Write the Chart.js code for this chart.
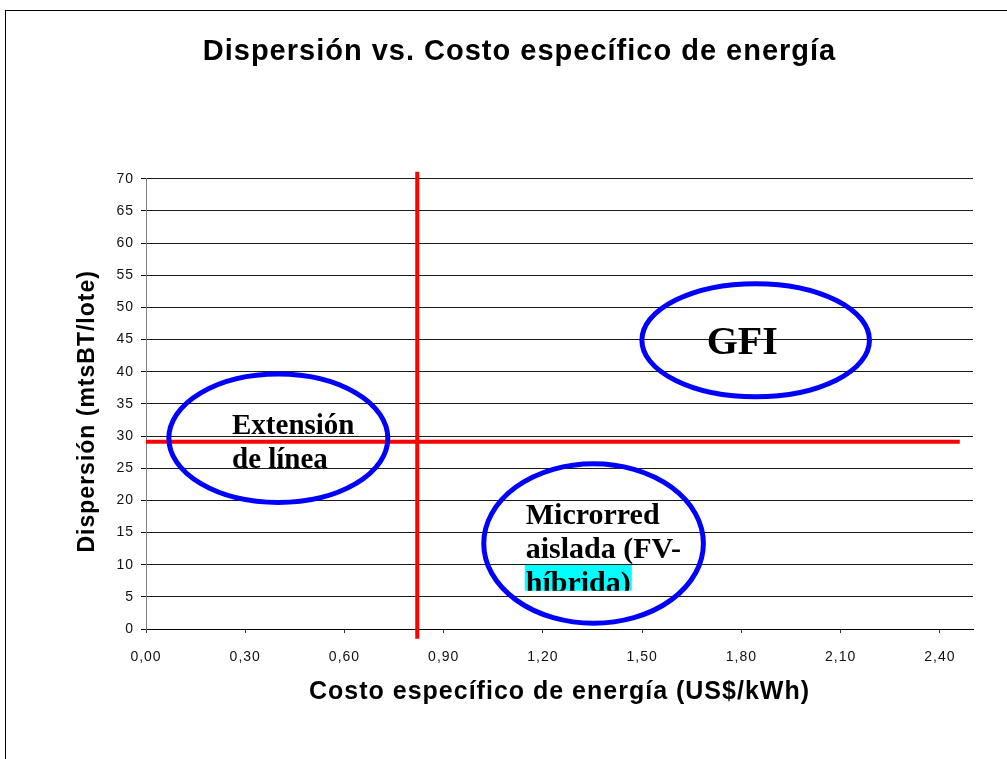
<!DOCTYPE html>
<html>
<head>
<meta charset="utf-8">
<title>Dispersión vs. Costo específico de energía</title>
<script src="https://cdn.jsdelivr.net/npm/chart.js@4.4.1/dist/chart.umd.min.js"></script>
<style>
  html, body { margin: 0; padding: 0; background: #fff; }
  canvas { display: block; }
</style>
</head>
<body>
<canvas id="chart" width="1007" height="759"></canvas>
<script>
// Axis ticks
const xTicks = [0, 0.3, 0.6, 0.9, 1.2, 1.5, 1.8, 2.1, 2.4];
const xMax = 2.5;
const yMin = 0, yMax = 70, yStep = 5;

// Red dividing lines (US$/kWh vs mtsBT/lote)
const vLineX = [0.82, 0.82];
const vLineY = [71.1, -1.5];
const hLineX = [0, 2.46];
const hLineY = [29.1, 29.1];

// Zones drawn as ellipses, in data units
const zoneX = [0.40, 1.843, 1.353];
const zoneY = [29.66, 44.9, 13.3];
const zoneRx = [0.331, 0.344, 0.332];
const zoneRy = [9.98, 8.8, 12.4];

// Zone labels (left edge / first baseline in data units)
const labelLines = [['Extensión', 'de línea'], ['GFI'], ['Microrred', 'aislada (FV-', 'híbrida)']];
const labelX = [0.26, 1.695, 1.148];
const labelY = [30.3, 42.77, 16.33];
const labelSize = [29, 40, 30];

const fmt = v => v.toFixed(2).replace('.', ',');

// old excel text is a bit wider than plain Arial
const spacing = {
  id: 'spacing',
  beforeUpdate(chart) { chart.ctx.letterSpacing = '1px'; },
  beforeDraw(chart) {
    const ctx = chart.ctx;
    ctx.letterSpacing = '1px';
    // chart frame
    ctx.save();
    ctx.strokeStyle = '#000';
    ctx.lineWidth = 1;
    ctx.strokeRect(5.5, 10.5, 1200, 1000);
    ctx.restore();
  }
};

const zones = {
  id: 'zones',
  afterDatasetsDraw(chart) {
    const { ctx, scales: { x, y } } = chart;
    ctx.save();
    ctx.letterSpacing = '0px';
    ctx.strokeStyle = '#0000ff';
    ctx.lineWidth = 5;
    zoneX.forEach((cx, i) => {
      const px = x.getPixelForValue(cx);
      const py = y.getPixelForValue(zoneY[i]);
      const rx = x.getPixelForValue(cx + zoneRx[i]) - px;
      const ry = py - y.getPixelForValue(zoneY[i] + zoneRy[i]);
      ctx.beginPath();
      ctx.ellipse(px, py, rx, ry, 0, 0, Math.PI * 2);
      ctx.stroke();
    });

    ctx.textBaseline = 'alphabetic';
    ctx.textAlign = 'left';
    labelLines.forEach((lines, i) => {
      const size = labelSize[i];
      ctx.font = 'bold ' + size + 'px "Liberation Serif", "Times New Roman", serif';
      const lx = x.getPixelForValue(labelX[i]);
      let by = y.getPixelForValue(labelY[i]);
      lines.forEach((line, j) => {
        if (i === 2 && j === 2) {
          // last line is highlighted and cut by the text box
          const w = ctx.measureText(line).width;
          const top = by - 27, bottom = by - 1.3;
          ctx.save();
          ctx.fillStyle = '#00ffff';
          ctx.fillRect(lx - 1, top, w + 2, bottom - top);
          ctx.beginPath();
          ctx.rect(lx - 1, top, w + 2, bottom - top);
          ctx.clip();
          ctx.fillStyle = '#000';
          ctx.fillText(line, lx, by);
          ctx.restore();
        } else {
          ctx.fillStyle = '#000';
          ctx.fillText(line, lx, by);
        }
        by += 34;
      });
    });
    ctx.restore();
  }
};

new Chart(document.getElementById('chart'), {
  type: 'scatter',
  data: {
    datasets: [
      {
        data: vLineX.map((v, i) => ({ x: v, y: vLineY[i] })),
        showLine: true,
        borderColor: '#ff0000',
        borderWidth: 4,
        pointRadius: 0,
        clip: false
      },
      {
        data: hLineX.map((v, i) => ({ x: v, y: hLineY[i] })),
        showLine: true,
        borderColor: '#ff0000',
        borderWidth: 4,
        pointRadius: 0,
        clip: false
      }
    ]
  },
  options: {
    responsive: false,
    animation: false,
    devicePixelRatio: 1,
    layout: { padding: { left: 32, right: 0, top: 0, bottom: 0 } },
    plugins: {
      legend: { display: false },
      tooltip: { enabled: false },
      title: {
        display: true,
        text: 'Dispersión vs. Costo específico de energía',
        color: '#000',
        font: { family: '"Liberation Sans", Arial, sans-serif', size: 29, weight: 'bold' },
        padding: { top: 35, bottom: 109 }
      }
    },
    scales: {
      x: {
        type: 'linear',
        min: 0,
        max: xMax,
        afterBuildTicks: s => { s.ticks = xTicks.map(v => ({ value: v })); },
        afterFit: s => { s.height = 130; },
        grid: { drawOnChartArea: false, drawTicks: true, tickLength: 4, tickColor: '#333' },
        border: { color: '#000', width: 1 },
        ticks: {
          color: '#111',
          padding: 16,
          font: { family: '"Liberation Sans", Arial, sans-serif', size: 14 },
          callback: v => fmt(v)
        },
        title: {
          display: true,
          text: 'Costo específico de energía (US$/kWh)',
          color: '#000',
          font: { family: '"Liberation Sans", Arial, sans-serif', size: 25, weight: 'bold' },
          padding: { top: 0, bottom: 52 }
        }
      },
      y: {
        min: yMin,
        max: yMax,
        afterFit: s => { s.width = 114; },
        grid: { color: '#1a1a1a', lineWidth: 1, tickLength: 5, tickColor: '#111' },
        border: { color: '#808080', width: 1 },
        ticks: {
          stepSize: yStep,
          color: '#111',
          padding: 7,
          font: { family: '"Liberation Sans", Arial, sans-serif', size: 14 }
        },
        title: {
          display: true,
          text: 'Dispersión (mtsBT/lote)  ',
          color: '#000',
          font: { family: '"Liberation Sans", Arial, sans-serif', size: 23, weight: 'bold' },
          padding: { top: 42, bottom: 0 }
        }
      },
      // empty right margin of the plot
      yRight: {
        position: 'right',
        min: yMin,
        max: yMax,
        afterFit: s => { s.width = 34; },
        grid: { display: false },
        border: { display: false },
        ticks: { display: false }
      }
    }
  },
  plugins: [spacing, zones]
});
</script>
</body>
</html>
